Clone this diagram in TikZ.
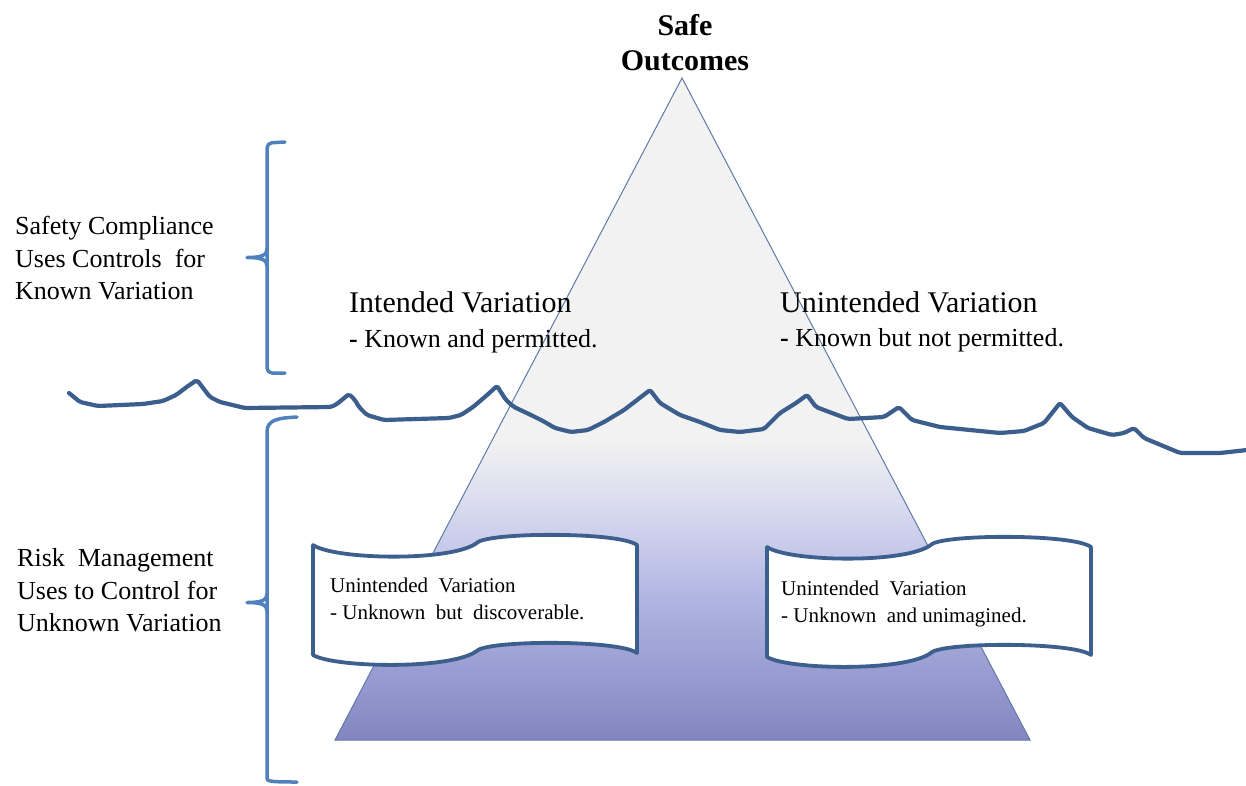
\documentclass[tikz,border=0pt]{standalone}
\usepackage{fontspec}
\setmainfont{Liberation Serif}
\definecolor{waveblue}{HTML}{3B5E8C}
\definecolor{boxblue}{HTML}{3C5F8E}
\definecolor{braceblue}{HTML}{4F81BD}
\definecolor{edgeblue}{HTML}{6079A8}
\definecolor{iceTop}{HTML}{F2F2F2}
\definecolor{iceA}{HTML}{D3D5EE}
\definecolor{iceB}{HTML}{B0B4E2}
\definecolor{iceC}{HTML}{8286C0}
\tikzset{
  brace/.style={draw=braceblue, line width=3.5pt, line cap=round, line join=round},
  water/.style={draw=waveblue, line width=4.2pt, line cap=round, line join=round, rounded corners=2pt},
  tapeline/.style={draw=boxblue, fill=white, line width=3.8pt, line join=round},
  sidetext/.style={anchor=base west, inner sep=0pt, font=\fontsize{26}{32}\selectfont},
  headtext/.style={anchor=base west, inner sep=0pt, font=\fontsize{30}{36}\selectfont},
  subtext/.style={anchor=base west, inner sep=0pt, font=\fontsize{26}{32}\selectfont},
  tapetext/.style={anchor=base west, inner sep=0pt, font=\fontsize{21}{26}\selectfont},
  tape/.pic={
    \path[tapeline] (0,0) .. controls (22,15) and (142,17) .. (165,-3)
      .. controls (182,-13) and (307,-13) .. (324,0) -- (324,108)
      .. controls (307,95) and (182,95) .. (165,105)
      .. controls (142,125) and (22,123) .. (0,110) -- cycle;
  }
}
\begin{document}
\begin{tikzpicture}[x=1pt,y=-1pt]
\useasboundingbox (0,0) rectangle (1246,785);

% iceberg triangle with its vertical colour ramp
\coordinate (apex) at (682,78);
\coordinate (baseL) at (335,740);
\coordinate (baseR) at (1030,740);
\begin{scope}
  \clip (apex) -- (baseR) -- (baseL) -- cycle;
  \fill[iceTop] (300,70) rectangle (1050,440);
  \shade[top color=iceTop, bottom color=iceA] (300,440) rectangle (1050,520);
  \shade[top color=iceA, bottom color=iceB] (300,520) rectangle (1050,600);
  \shade[top color=iceB, bottom color=iceC] (300,600) rectangle (1050,741);
\end{scope}
\draw[edgeblue, line width=1pt, line join=miter] (apex) -- (baseR) -- (baseL) -- cycle;

% water surface
\draw[water] (69,393) -- (80,402) -- (98,406) -- (143,404) -- (163,401) -- (176,395)
  -- (188,386) -- (197,380) -- (210,397) -- (220,402) -- (245,408) -- (331,407)
  -- (337,404) -- (349,394) -- (355,400) -- (359,407) -- (367,415) -- (384,420)
  -- (449,418) -- (461,415) -- (473,407) -- (486,396) -- (497,386) -- (506,400)
  -- (514,407) -- (531,415) -- (543,421) -- (555,428) -- (571,432) -- (588,430)
  -- (604,422) -- (624,410) -- (650,390) -- (660,403) -- (680,415) -- (700,422)
  -- (720,430) -- (740,432) -- (764,429) -- (780,413) -- (796,403) -- (807,395)
  -- (816,407) -- (832,413) -- (848,419) -- (884,417) -- (899,407) -- (912,420)
  -- (940,427) -- (980,431) -- (1000,433) -- (1024,431) -- (1044,423) -- (1060,403)
  -- (1072,417) -- (1088,428) -- (1112,435) -- (1124,433) -- (1134,428) -- (1144,438)
  -- (1180,453) -- (1220,453) -- (1247,450);

% submerged tapes
\pic at (313,545) {tape};
\pic at (767,547) {tape};

% title
\node[align=center, inner sep=0pt, font=\fontsize{30}{35}\selectfont\bfseries] (safe) at (685,43) {Safe\\Outcomes};

% above-water labels
\node[headtext] (ivTitle) at (349,312) {Intended Variation};
\node[subtext] (ivNote) at (349,347) {\textbf{-} Known and permitted.};
\node[headtext] (uvTitle) at (780,312) {Unintended Variation};
\node[subtext] (uvNote) at (780,346) {\textbf{-} Known but not permitted.};

% tape labels
\node[tapetext] (ldTitle) at (330,592) {Unintended\ \ Variation};
\node[tapetext] (ldNote) at (330,619) {- Unknown\ \ but\ \ discoverable.};
\node[tapetext] (luTitle) at (781,595) {Unintended\ \ Variation};
\node[tapetext] (luNote) at (781,622) {- Unknown\ \ and unimagined.};

% side labels
\node[sidetext] (sc1) at (15,234) {Safety Compliance};
\node[sidetext] (sc2) at (15,267) {Uses Controls\ \ for};
\node[sidetext] (sc3) at (15,299) {Known Variation};
\node[sidetext] (rm1) at (17,566) {Risk\ \ Management};
\node[sidetext] (rm2) at (17,599) {Uses to Control for};
\node[sidetext] (rm3) at (17,631) {Unknown Variation};

% braces
\draw[brace, rounded corners=5pt] (285,142) -- (267,143) -- (267,373) -- (285,373);
\draw[brace] (267,249) .. controls (267,255) and (262,257.5) .. (247,257.5)
  .. controls (262,257.5) and (267,260) .. (267,266);
\draw[brace] (297,417) .. controls (277,418) and (267,420) .. (267,432)
  -- (267,778) .. controls (267,781) and (268,782) .. (297,782);
\draw[brace] (267,594) .. controls (267,600) and (262,602.5) .. (247,602.5)
  .. controls (262,602.5) and (267,605) .. (267,611);
\end{tikzpicture}
\end{document}
